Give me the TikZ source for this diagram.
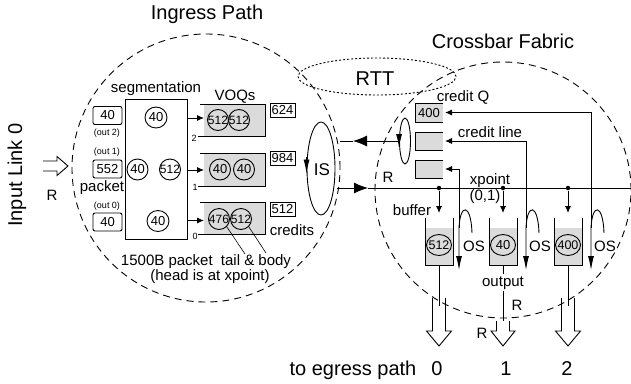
\documentclass[tikz,border=0pt]{standalone}
\usepackage{fontspec}
\setmainfont{Liberation Sans}
\usetikzlibrary{arrows.meta,shapes.geometric,calc}
\definecolor{qgray}{gray}{0.86}
\newcommand{\zwtxt}[1]{\makebox[0pt]{#1}}
\begin{document}
\begin{tikzpicture}[x=1pt,y=-1pt, line width=0.9pt,
  fbig/.style={font=\fontsize{20}{24}\selectfont},
  fmed/.style={font=\fontsize{15}{18}\selectfont},
  fsml/.style={font=\fontsize{9}{11}\selectfont},
  fnum/.style={font=\fontsize{13}{15}\selectfont},
  fnumb/.style={font=\fontsize{12.5}{14}\selectfont},
  fnumc/.style={font=\fontsize{12}{13}\selectfont},
  txt/.style={inner sep=0pt, anchor=base},
  ring/.style={draw, ellipse, inner sep=0pt, minimum width=21pt, minimum height=21pt},
  sarr/.style={-{Latex[length=7pt,width=6pt]}},
  larr/.style={-{Latex[length=14pt,width=6pt]}},
  barr/.style={-{Latex[length=14pt,width=11pt]}},
  dcirc/.style={dash pattern=on 7pt off 5pt},
  dot/.style={circle, fill, inner sep=0pt, minimum size=4.5pt},
  pbox/.style={draw, rounded corners=2pt, inner sep=0pt, minimum width=29pt, minimum height=18pt, fnum},
  cbox/.style={draw, inner sep=0pt, minimum width=25pt, minimum height=14pt, fnum},
]
\useasboundingbox (0,0) rectangle (631,383);

% ---- dashed regions
\draw[dcirc] (206,168) circle [radius=134pt];
\draw[dcirc] (503,190) circle [radius=128pt];
\draw[dash pattern=on 2pt off 2pt] (377,76.5) ellipse [x radius=79pt, y radius=18.5pt];

% ---- titles
\node[txt,fbig] (tIng) at (207,19) {Ingress Path};
\node[txt,fbig] (tCross) at (503,48) {Crossbar Fabric};
\node[txt,fbig] (tRTT) at (375,85) {RTT};
\node[txt,fbig,rotate=90] (tIn) at (22,175) {Input Link 0};
\node[txt,fbig] (tEg) at (353,375) {to egress path};
\node[txt,fbig] (tE0) at (437,375) {0};
\node[txt,fbig] (tE1) at (506,375) {1};
\node[txt,fbig] (tE2) at (567,375) {2};

% ---- input arrow
\draw (43,161)--(57,161)--(57,156.5)--(68,166)--(57,175.5)--(57,171)--(43,171);
\node[txt,fmed] (tRin) at (52,200) {R};

% ---- packet boxes
\node[pbox] (p2) at (107.5,115.5) {40};
\node[pbox] (p1) at (107.5,169) {552};
\node[pbox] (p0) at (107.5,222) {40};
\node[txt,fsml] (o2) at (107,135.5) {(out 2)};
\node[txt,fsml] (o1) at (107,154) {(out 1)};
\node[txt,fsml] (o0) at (107,208.5) {(out 0)};
\node[txt,fmed] (tpk) at (102,191) {packet};

% ---- segmentation
\node[draw, inner sep=0pt, minimum width=62pt, minimum height=140pt] (seg) at (156,169) {};
\node[txt,fmed] (tseg) at (156,92) {segmentation};
\node[ring, minimum width=22pt, fnum] (s2) at (156,117.5) {\zwtxt{40}};
\node[ring, fnum] (s1a) at (137.5,169.5) {\zwtxt{40}};
\node[ring, fnumc] (s1b) at (170,169.5) {\zwtxt{512}};
\node[ring, minimum width=22pt, fnum] (s0) at (158,221) {\zwtxt{40}};

% ---- VOQs
\node[txt,fmed] (tvoq) at (235,100) {VOQs};
\fill[qgray] (204,104) rectangle (265,136);
\draw (200,104) -- (265,104) -- (265,136) -- (198,136);
\fill[qgray] (204,153) rectangle (265,186);
\draw (200,153) -- (265,153) -- (265,186) -- (198,186);
\fill[qgray] (204,202) rectangle (265,234);
\draw (200,202) -- (265,202) -- (265,234) -- (198,234);
\node[txt,fsml] (n2) at (194,141) {2};
\node[txt,fsml] (n1) at (195,190) {1};
\node[txt,fsml] (n0) at (195,239) {0};
\node[ring, fnumc] (v2a) at (218,120) {\zwtxt{512}};
\node[ring, fnumc] (v2b) at (239,120) {\zwtxt{512}};
\node[ring, fnum] (v1a) at (220,169.5) {\zwtxt{40}};
\node[ring, fnum] (v1b) at (244,169.5) {\zwtxt{40}};
\node[ring, fnumc] (v0a) at (219,219) {\zwtxt{476}};
\node[ring, fnumc] (v0b) at (241,219) {\zwtxt{512}};
\coordinate (vq2) at (204,118);
\coordinate (vq1) at (204,170);
\coordinate (vq0) at (204,220.5);
\draw[sarr] (seg.east |- vq2) -- (vq2);
\draw[sarr] (seg.east |- vq1) -- (vq1);
\draw[sarr] (seg.east |- vq0) -- (vq0);

% ---- credits
\node[cbox] (c2) at (282.5,110) {624};
\node[cbox] (c1) at (282.5,158) {984};
\node[cbox] (c0) at (282.5,209) {512};
\node[txt,fmed] (tcr) at (292,235) {credits};

% ---- packet text
\node[txt,fmed] (tpkt) at (206,265) {1500B packet\hspace{0.55em}tail \& body};
\node[txt,fmed] (thead) at (210,280) {(head is at xpoint)};
\coordinate (tt1) at (245,254);
\coordinate (tt2) at (266,253);
\draw[line width=0.6pt] (v0a.-45) -- (tt1);
\draw[line width=0.6pt] (v0b.-45) -- (tt2);

% ---- IS
\node[draw, ellipse, minimum width=28pt, minimum height=93pt, inner sep=0pt] (is) at (321,168.5) {};
\node[txt,font=\fontsize{17}{20}\selectfont] (tis) at (322,175.5) {IS};
\draw[larr] ($(is.west)+(0,-12)$) -- ($(is.west)+(0,5)$);

% ---- credit Q ellipse and return line
\node[draw, ellipse, minimum width=11pt, minimum height=46pt, inner sep=0pt] (cq) at (405,141) {};
\draw[larr] ($(cq.west)+(0,-7)$) -- ($(cq.west)+(0,7)$);
\coordinate (ua) at (353,141);
\coordinate (uL) at (340,141);
\draw[barr] (cq.west) -- (ua);
\draw (ua) -- (uL);

% ---- data line
\coordinate (lL) at (337,188);
\coordinate (la) at (368,188);
\coordinate (lR) at (631,188);
\draw[barr] (lL) -- (la);
\draw (la) -- (lR);
\node[txt,fmed] (tR1) at (388,182) {R};

% ---- credit Q boxes
\fill[qgray] (415,103) rectangle (443,122);
\draw (443,103) -- (415,103) -- (415,122) -- (443,122);
\fill[qgray] (415,132) rectangle (443,150);
\draw (443,132) -- (415,132) -- (415,150) -- (443,150);
\fill[qgray] (415,160) rectangle (443,178);
\draw (443,160) -- (415,160) -- (415,178) -- (443,178);
\node[fnum, inner sep=0pt] (q400) at (429,113) {400};
\node[txt,fmed] (tcq) at (463,101) {credit Q};
\node[txt,fmed] (tcl) at (490,137) {credit line};
\coordinate (k1) at (445,112.5);
\coordinate (k2) at (445,141);
\coordinate (k3) at (445,169);

% ---- OS loops and credit lines
\coordinate (j1) at (459,228);
\coordinate (j2) at (526,228);
\coordinate (j3) at (591,228);
\coordinate (os1) at (459,270);
\coordinate (os2) at (526,270);
\coordinate (os3) at (591,270);
\draw[larr] (472,233) .. controls (471,203) and (460,203) .. (j1) -- (os1);
\draw[larr] (539,233) .. controls (538,203) and (527,203) .. (j2) -- (os2);
\draw[larr] (604,233) .. controls (603,203) and (592,203) .. (j3) -- (os3);
\draw[sarr] (j1) |- (k3);
\draw[sarr] (j2) |- (k2);
\draw[sarr] (j3) |- (k1);
\node[txt,fmed] (tos1) at (474,251) {OS};
\node[txt,fmed] (tos2) at (540,251) {OS};
\node[txt,fmed] (tos3) at (605,251) {OS};

% ---- crosspoints
\node[dot] (d1) at (439,188) {};
\node[dot] (d2) at (503,188) {};
\node[dot] (d3) at (568,188) {};
\coordinate (bt1) at (439,213);
\coordinate (bt2) at (503,213);
\coordinate (bt3) at (568,213);
\draw[sarr] (d1) -- (bt1);
\draw[sarr] (d2) -- (bt2);
\draw[sarr] (d3) -- (bt3);
\node[txt,fmed] (txp) at (490,184) {xpoint};
\node[txt,fmed] (t01) at (485,200) {(0,1)};
\node[txt,fmed] (tbuf) at (412,215) {buffer};

% ---- buffers
\fill[qgray] (425,228) rectangle (453,265);
\draw (425,218) -- (425,265) -- (453,265) -- (453,218);
\fill[qgray] (489,228) rectangle (517,265);
\draw (489,218) -- (489,265) -- (517,265) -- (517,218);
\fill[qgray] (554,228) rectangle (582,265);
\draw (554,218) -- (554,265) -- (582,265) -- (582,218);
\node[ring, minimum width=25pt, fnumb] (bf1) at (439,245) {\zwtxt{512}};
\node[ring, minimum width=25pt, fnum] (bf2) at (503,245) {\zwtxt{40}};
\node[ring, minimum width=25pt, fnumb] (bf3) at (568,245) {\zwtxt{400}};

% ---- outputs
\coordinate (bb1) at (439,265);
\coordinate (bb2) at (503,265);
\coordinate (bb3) at (568,265);
\coordinate (h0) at (439,306);
\coordinate (h1) at (503,321);
\coordinate (h2) at (568,306);
\node[txt,fmed,inner sep=1.5pt] (tout) at (503,286) {output};
\draw (bb1) -- (h0);
\draw (bb2) -- (tout.north);
\draw (tout.south) -- (h1);
\draw (bb3) -- (h2);
\node[txt,fmed] (tR2) at (517,310) {R};
\node[txt,fmed] (tR3) at (482,338) {R};

% hollow arrows
\draw (432.5,298)--(432.5,331)--(426.5,331)--(439,346)--(451.5,331)--(445.5,331)--(445.5,298);
\draw (496.5,321)--(496.5,331)--(491,331)--(503,346)--(515,331)--(509.5,331)--(509.5,321);
\draw (561.5,298)--(561.5,331)--(555.5,331)--(568,346)--(580.5,331)--(574.5,331)--(574.5,298);
\end{tikzpicture}
\end{document}
